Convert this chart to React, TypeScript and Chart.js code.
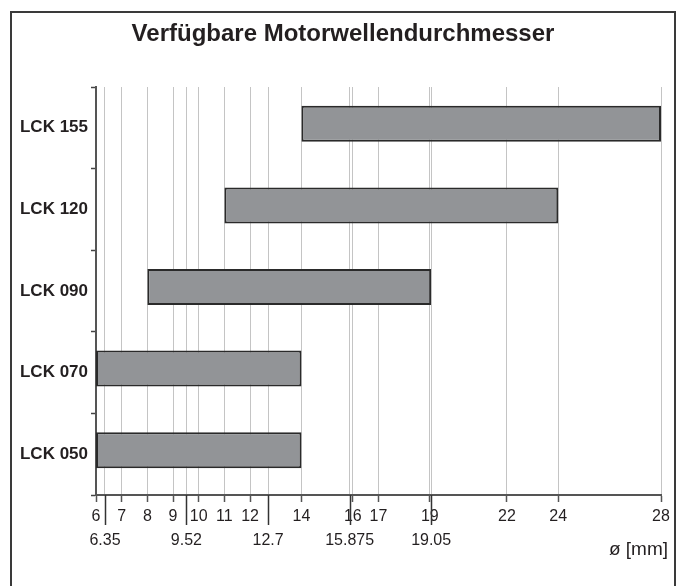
import React, { useEffect, useRef } from "react";
import { Chart, registerables } from "chart.js";

Chart.register(...registerables);

const titleText = "Verfügbare Motorwellendurchmesser";
const axisTitle = "ø [mm]";
const categories = ["LCK 155", "LCK 120", "LCK 090", "LCK 070", "LCK 050"];
const rangeStart = [14, 11, 8, 6, 6];
const rangeEnd = [28, 24, 19.05, 14, 14];
const integerTicks = [6, 7, 8, 9, 10, 11, 12, 14, 16, 17, 19, 22, 24, 28];
const inchTicks = [6.35, 9.52, 12.7, 15.875, 19.05];
const inchTickLabels = ["6.35", "9.52", "12.7", "15.875", "19.05"];
const xMin = 6;
const xMax = 28;

const FONT = "'Liberation Sans', Arial, sans-serif";
const TEXT = "#231f20";

export default function App() {
  const ref = useRef<HTMLCanvasElement | null>(null);

  useEffect(() => {
    if (!ref.current) return;
    Chart.defaults.font.family = FONT;
    const allTicks = [...integerTicks, ...inchTicks].sort((a, b) => a - b);
    const isInch = (v: number) => inchTicks.some((t) => Math.abs(t - v) < 1e-6);

    const extras = {
      id: "extras",
      afterDraw(chart: any) {
        const s = chart.scales.x;
        const c = chart.ctx;
        c.save();
        c.strokeStyle = "#333";
        c.lineWidth = 1.5;
        inchTicks.forEach((v) => {
          const px = Math.round(s.getPixelForValue(v)) + 0.5;
          c.beginPath();
          c.moveTo(px, s.top);
          c.lineTo(px, s.top + 30);
          c.stroke();
        });
        c.fillStyle = TEXT;
        c.textBaseline = "middle";
        c.textAlign = "center";
        c.font = "bold 24px " + FONT;
        c.fillText(titleText, 343, 34);
        c.textAlign = "right";
        c.font = "19px " + FONT;
        c.fillText(axisTitle, 668, 550);
        c.restore();
      },
    };

    const chart = new Chart(ref.current, {
      type: "bar",
      data: {
        labels: categories,
        datasets: [
          {
            data: categories.map((_, i) => [rangeStart[i], rangeEnd[i]]) as any,
            backgroundColor: "#929497",
            borderColor: "#2a2a2a",
            borderWidth: 2,
            borderSkipped: false,
            barPercentage: 4.5,
            categoryPercentage: 0.196,
          },
          {
            data: categories.map(() => null) as any,
            backgroundColor: "rgba(0,0,0,0)",
            borderWidth: 0,
            barPercentage: 4.5,
            categoryPercentage: 0.196,
          },
        ],
      },
      options: {
        indexAxis: "y",
        responsive: false,
        animation: false,
        layout: { padding: { left: 0, right: 19, top: 87, bottom: 0 } },
        plugins: {
          legend: { display: false },
          tooltip: { enabled: false },
          title: { display: false },
        },
        scales: {
          x: {
            type: "linear",
            min: xMin,
            max: xMax,
            afterBuildTicks: (scale: any) => {
              scale.ticks = allTicks.map((v) => ({ value: v }));
            },
            afterFit: (scale: any) => {
              scale.height = 91;
            },
            ticks: {
              autoSkip: false,
              maxRotation: 0,
              minRotation: 0,
              padding: 3,
              color: TEXT,
              font: { size: 16, family: FONT, lineHeight: 1.5 },
              callback: (_v: any, i: number, ticks: any[]) => {
                const v = ticks[i].value;
                if (isInch(v)) {
                  const k = inchTicks.findIndex((t) => Math.abs(t - v) < 1e-6);
                  return ["", inchTickLabels[k]];
                }
                return String(v);
              },
            },
            grid: {
              color: "#c4c4c4",
              lineWidth: 1,
              tickLength: 7,
              tickColor: (ctx: any) =>
                ctx.tick && isInch(ctx.tick.value) ? "rgba(0,0,0,0)" : "#555",
              tickWidth: 1.5,
            },
            border: { color: "#555", width: 2 },
          },
          y: {
            type: "category",
            afterFit: (scale: any) => {
              scale.width = 96;
            },
            ticks: {
              color: TEXT,
              padding: 3,
              font: { size: 17, weight: "bold", family: FONT },
            },
            grid: {
              offset: true,
              drawOnChartArea: false,
              tickLength: 5,
              tickColor: "#444",
              tickWidth: 1.5,
            },
            border: { color: "#555", width: 2 },
          },
        },
      },
      plugins: [extras],
    } as any);
    return () => chart.destroy();
  }, []);

  return (
    <div
      style={{
        position: "fixed",
        left: 0,
        top: 0,
        width: 680,
        height: 586,
        overflow: "hidden",
        background: "#fff",
      }}
    >
      <div
        style={{
          position: "absolute",
          left: 10,
          top: 11,
          width: 666,
          height: 620,
          boxSizing: "border-box",
          border: "2px solid #3a3a3a",
        }}
      />
      <canvas
        ref={ref}
        width={680}
        height={586}
        style={{ position: "absolute", left: 0, top: 0, width: 680, height: 586 }}
      />
    </div>
  );
}
